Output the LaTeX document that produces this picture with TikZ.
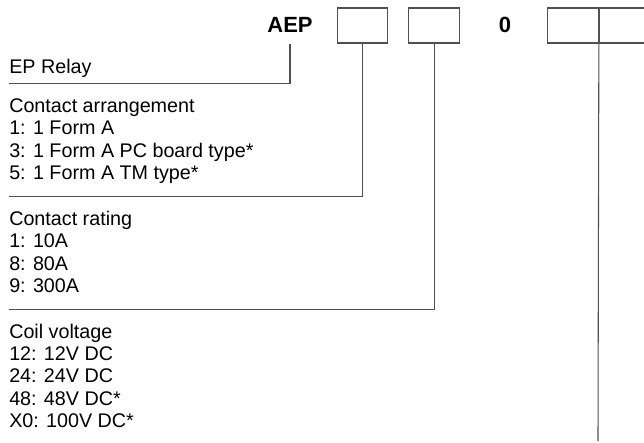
\documentclass[tikz,border=0pt]{standalone}
\usepackage{fontspec}
\setmainfont{Liberation Sans}
\usetikzlibrary{positioning}
\definecolor{rulegray}{RGB}{80,80,80}

\begin{document}
\begin{tikzpicture}[
    x=0.75pt, y=-0.75pt,
    digit/.style={draw=rulegray, line width=0.8pt, minimum width=38pt, minimum height=26.25pt, inner sep=0pt},
    code/.style={font=\fontsize{16.5}{18}\selectfont\bfseries, anchor=base},
    item/.style={font=\fontsize{14.8}{16.5}\selectfont, anchor=base west, inner sep=0pt},
    rule/.style={draw=rulegray, line width=0.8pt}
]
\useasboundingbox (0,0) rectangle (644,443);

% Part number
\node[code] (aep) at (290,32) {AEP};
\node[digit] (box1) at (362.5,25.5) {};
\node[digit, right=15pt of box1] (box2) {};
\node[code] (zero) at (505,32) {0};
\node[digit] (box3) at (573,25.5) {};
\node[digit, right=0pt of box3] (box4) {};

% EP Relay
\node[item] (relay) at (9,73.3) {EP Relay};

% Contact arrangement
\node[item] (arr) at (9,112.5) {Contact arrangement};
\node[item] (arr1) at (9,134.8) {1: 1 Form A};
\node[item] (arr3) at (9,157.1) {3: 1 Form A PC board type*};
\node[item] (arr5) at (9,179.4) {5: 1 Form A TM type*};

% Contact rating
\node[item] (rat) at (9,225.5) {Contact rating};
\node[item] (rat1) at (9,247.8) {1: 10A};
\node[item] (rat8) at (9,270.1) {8: 80A};
\node[item] (rat9) at (9,292.4) {9: 300A};

% Coil voltage
\node[item] (coil) at (9,338.2) {Coil voltage};
\node[item] (coil12) at (9,360.5) {12: 12V DC};
\node[item] (coil24) at (9,382.8) {24: 24V DC};
\node[item] (coil48) at (9,405.1) {48: 48V DC*};
\node[item] (coilX0) at (9,427.4) {X0: 100V DC*};

% Leader lines
\coordinate (relayEnd) at (9,83.3);
\coordinate (arrEnd) at (9,196.5);
\coordinate (ratEnd) at (9,309.2);
\coordinate (coilEnd) at (598,441);
\draw[rule] (aep.base |- box1.south) |- (relayEnd);
\draw[rule] (box1.south) |- (arrEnd);
\draw[rule] (box2.south) |- (ratEnd);
\draw[rule] (box3.south east) -- (coilEnd);

\end{tikzpicture}
\end{document}
